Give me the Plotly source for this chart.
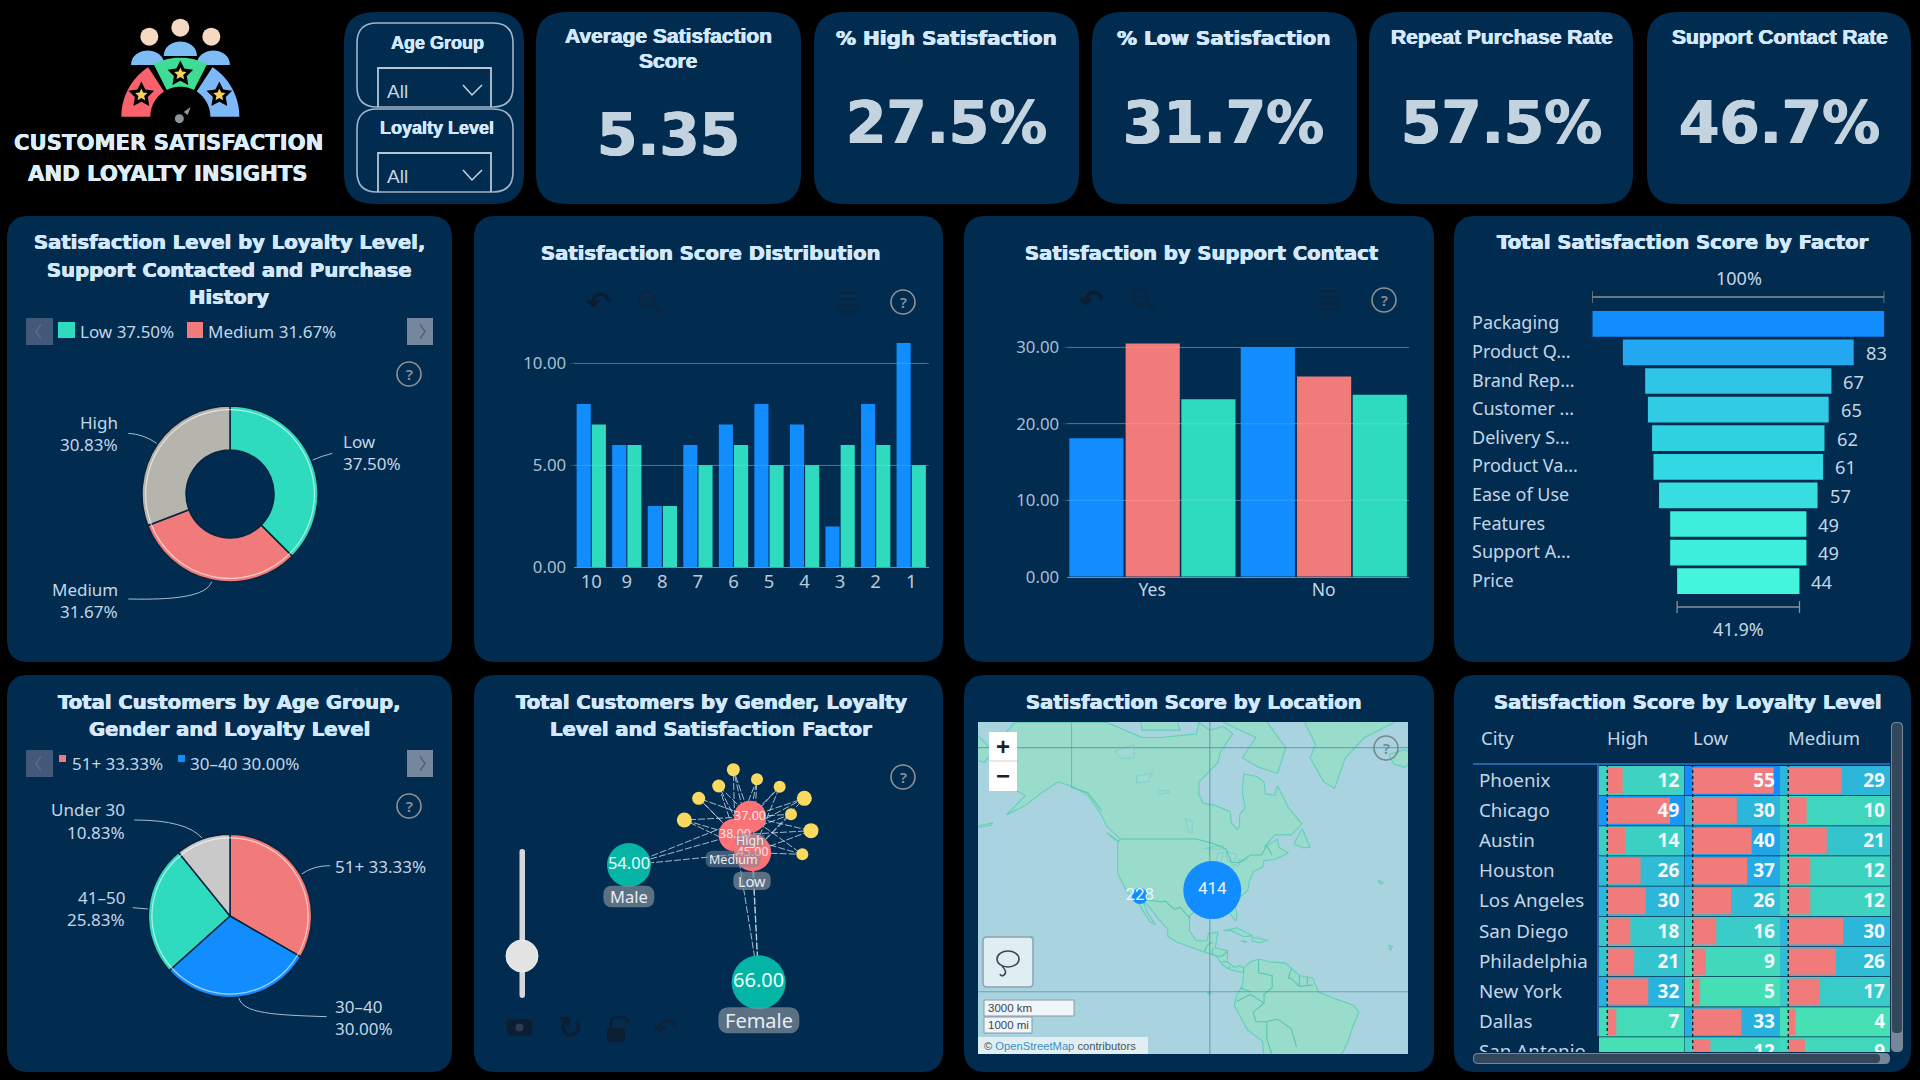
import math, re
import plotly.graph_objects as go

# ---------------- data ----------------
kpi_titles = [["Average Satisfaction", "Score"], ["% High Satisfaction"], ["% Low Satisfaction"],
              ["Repeat Purchase Rate"], ["Support Contact Rate"]]
kpi_values = ["5.35", "27.5%", "31.7%", "57.5%", "46.7%"]

level_labels = ["Low", "Medium", "High"]
level_pct = [37.50, 31.67, 30.83]

score_cats = ["10", "9", "8", "7", "6", "5", "4", "3", "2", "1"]
score_blue = [8, 6, 3, 6, 7, 8, 7, 2, 8, 11]
score_green = [7, 6, 3, 5, 6, 5, 5, 6, 6, 5]

contact_cats = ["Yes", "No"]
contact_blue = [18.1, 30.0]
contact_red = [30.5, 26.2]
contact_green = [23.2, 23.8]

factor_names = ["Packaging", "Product Q...", "Brand Rep...", "Customer ...", "Delivery S...",
                "Product Va...", "Ease of Use", "Features", "Support A...", "Price"]
factor_vals = [105, 83, 67, 65, 62, 61, 57, 49, 49, 44]
factor_labels = ["", "83", "67", "65", "62", "61", "57", "49", "49", "44"]
factor_colors = ["#118dff", "#22a7f0", "#2dc4e6", "#30cce6", "#30d2e2", "#32d8e4", "#38dde0", "#3eeedd", "#3eeedd", "#42f5dc"]

age_labels = ["51+", "30–40", "41–50", "Under 30"]
age_pct = [33.33, 30.00, 25.83, 10.83]

gender_names = ["Male", "Female"]
gender_vals = [54, 66]
loyalty_names = ["Medium", "High", "Low"]
loyalty_vals = [38, 37, 45]

cities = ["Phoenix", "Chicago", "Austin", "Houston", "Los Angeles", "San Diego",
          "Philadelphia", "New York", "Dallas", "San Antonio"]
high_vals = [12, 49, 14, 26, 30, 18, 21, 32, 7, None]
low_vals = [55, 30, 40, 37, 26, 16, 9, 5, 33, 12]
medium_vals = [29, 10, 21, 12, 12, 30, 26, 17, 4, 9]

cluster_counts = [414, 228]
cluster_lon = [-89.1, -115.8]
cluster_lat = [35.1, 33.3]

# force-layout node positions (graph layout units)
gender_pos_x = [477, 866]
gender_pos_y = [585, 937]
loyalty_pos_x = [795, 840, 848]
loyalty_pos_y = [495, 440, 548]
factor_pos_x = [790, 861, 746, 929, 686, 1003, 963, 643, 1023, 997]
factor_pos_y = [299, 328, 348, 350, 385, 385, 433, 450, 482, 553]
factor_node_px = [13, 12, 13, 12, 13, 15, 12, 15, 15, 12]

# approximate coastlines (lon, lat)
coast_america = [(-168,65.6),(-164,66.5),(-166,68.3),(-162,70),(-141,70),(-128,70),(-115,68),(-108,68),(-95,68.5),(-94,70),(-90,69),(-85,69.5),
 (-81.5,68.5),(-86,66),(-87,64.3),(-94,61),(-94,58.7),(-92.5,57),(-88,56.5),(-82.5,55.2),(-82,52.8),(-80,51.3),(-79,52),(-79,54.5),(-77,56),(-78,59),
 (-77.5,62.4),(-73,62),(-70,61),(-69.5,58.8),(-66,58.5),(-65,60.3),(-61,56),(-56,52.5),(-60,50),(-66,50),(-70,47),(-65,49),(-64.5,47),(-61,45.5),
 (-66,43.8),(-70,43.5),(-70.5,41.7),(-74,40.5),(-75.5,37.5),(-76,35),(-81,31.5),(-80,27),(-80.5,25.2),(-82,27),(-84,30),(-89,30),(-94,29.5),
 (-97.5,27),(-97.5,22),(-95,18.5),(-91,18.5),(-90.5,21),(-87,21.5),(-88,16),(-83.5,15),(-83.5,11),(-81,9),(-79,9.5),(-77.5,8.7),(-75,11),(-72,12),
 (-68,11),(-62,10.5),(-57,6),(-52,5),(-50,0),(-44,-2.5),(-37,-5),(-35,-7.5),(-37,-12),(-39,-18),(-41,-22),(-48,-26),(-70,-26),(-70.5,-18),(-76,-14),
 (-81,-5),(-80,-1),(-78,2),(-77.5,7),(-80,7.5),(-83,8.3),(-85.5,10),(-87.5,13),(-92,14.5),(-96,16),(-102,18),(-105.5,20),(-105.5,22.5),(-109,26),
 (-112.5,30),(-114.7,31.7),(-113,28),(-110,24),(-112,25),(-115,29),(-117,32.5),(-120.5,34.5),(-124,40),(-124,48),(-123,49),(-128,52),(-130.5,55),
 (-135,58.5),(-140,60),(-146,61),(-152,59),(-158,56.5),(-165,54.5),(-158,58.5),(-162,59.5),(-166,62),(-161,64.5),(-168,65.6)]
coast_islands = [
 [(-80,73.5),(-72,71.5),(-62,66.5),(-65,62.5),(-72,63.5),(-78,65),(-73,68),(-85,70),(-89,72)],
 [(-117,73),(-105,73),(-101,69),(-115,69)],
 [(-55,70),(-51,67),(-53,65),(-48,61),(-44,59.8),(-40,65),(-33,68),(-22,70),(-22,72),(-55,72)],
 [(-24,65.5),(-18,66.3),(-14,65),(-18,63.5),(-22,64)],
 [(-180,70),(-170,66),(-173,64.3),(-180,65)],
 [(-59,47.7),(-56,51.5),(-53,47),(-55.5,46.8)],
 [(-85,22),(-80,23),(-74.2,20.2),(-77.5,19.9),(-82,22)],
 [(-74.3,19.8),(-68.5,18.7),(-71.5,17.8),(-74.3,18.3)],
 [(-78.4,18.4),(-76.3,18.2),(-77,17.8)],
 [(-128,50.5),(-123.5,48.4),(-125,48.8)],
 [(-28,38),(-26,37.4),(-27,36.8)],
 [(-24,17),(-22.6,16.6),(-23.4,15)],
 [(-91,0),(-89.5,-0.5),(-90.5,-1)],
 [(-156,20.2),(-155,19.7),(-155.6,19)],
 [(-176,52),(-170,52.8),(-170.5,52.3),(-176,51.6)],
]
lakes = [
 [(-92,46.7),(-85,47.5),(-84.7,46.5),(-89,46.5)],
 [(-87.8,42),(-86.3,42),(-85,45.7),(-87,45.5)],
 [(-84,46),(-80,45),(-81.5,43),(-83.5,43.5)],
 [(-83.3,41.8),(-79,42.8),(-79,42.3),(-82,41.4)],
 [(-79.6,43.5),(-76.2,44),(-76.4,43.4),(-79,43.2)],
 [(-117,62),(-111,62.6),(-113,61),(-117,60.8)],
 [(-125,66),(-118,67),(-118,65),(-123,65)],
 [(-99,53.7),(-96.5,53),(-96.5,50.5),(-98,51)],
 [(-109,59.5),(-105,59.3),(-105,59),(-109,58.7)],
]
borders = [
 [(-123,49),(-95,49),(-89,48),(-84,46.5),(-82,43),(-79,43),(-75,45),(-71,45),(-69,47.3),(-67,45)],
 [(-141,70),(-141,60),(-135,59),(-130,55.5)],
 [(-117,32.5),(-108,31.5),(-106.5,31.8),(-103,29),(-101,29.8),(-97.2,26)],
 [(-92,14.5),(-91,17),(-89,18)],
 [(-88.8,15.8),(-89.3,14),(-87.5,13)],
 [(-83.2,15),(-85.5,13),(-87.3,13)],
 [(-83.7,11),(-85.5,11)],
 [(-82.7,9.5),(-83,8.3)],
 [(-77.5,8.7),(-77.5,7)],
 [(-72,12),(-72,7),(-67,6),(-67,1.5),(-70,-1),(-70,-4.2),(-74,-7.5),(-73,-11),(-69,-11),(-65,-10),(-60,-13.5),(-58,-20)],
 [(-80,-3.5),(-75,-1),(-70,-4.2)],
 [(-78.8,1.4),(-75,0)],
 [(-60,8.5),(-61,5),(-60,5),(-57,2),(-52,2.5)],
 [(-57,6),(-57,2)],
 [(-54,5.5),(-54,2.3)],
 [(-69,-11),(-69,-17),(-67,-23)],
]
map_grid_lon = [-90]
map_grid_lat = [66.56, 0]

# ---------------- styles ----------------
BG = "#000000"; PANEL = "#022b50"; TITLE = "#d3e9fb"; LABEL = "#c2d6e6"; KPI = "#c3d3df"
BLUE = "#118dff"; GREEN = "#2fdbbf"; RED = "#f17a7a"; GRAY = "#b5b5ae"; LGRAY = "#c9c9c9"
SANS = "Noto Sans"; HEAD = "DejaVu Sans"; ARIAL = "Liberation Sans"
W, H = 1920, 1080
fx = lambda x: x / W
fy = lambda y: 1 - y / H
S, A, traces = [], [], []

def bolder(color, d=0.5):
    return f"{d}px 0 0 {color}, -{d}px 0 0 {color}"

def PX(d):
    out, i = [], 0
    for t in re.findall(r"[A-Za-z]|-?\d+\.?\d*", d):
        if t.isalpha():
            out.append(t)
        else:
            v = float(t)
            out.append(f"{fx(v) if i % 2 == 0 else fy(v):.5f}")
            i += 1
    return " ".join(out)

def PZ(ox, oy, d):
    out, i = [], 0
    for t in re.findall(r"[A-Za-z]|-?\d+\.?\d*", d):
        if t.isalpha():
            out.append(t)
        else:
            v = float(t)
            out.append(f"{ox + v / 3:.2f}" if i % 2 == 0 else f"{oy + v / 3:.2f}")
            i += 1
    return " ".join(out)

def path(d, fill=None, line=None, w=1, layer="below", dash=None):
    ln = dict(color=line or "rgba(0,0,0,0)", width=w if line else 0)
    if dash: ln["dash"] = dash
    S.append(dict(type="path", xref="paper", yref="paper", path=PX(d), fillcolor=fill or "rgba(0,0,0,0)", line=ln, layer=layer))

def rrect(x0, y0, x1, y1, r, fill=None, line=None, w=1, layer="below"):
    d = (f"M {x0+r} {y0} L {x1-r} {y0} Q {x1} {y0} {x1} {y0+r} L {x1} {y1-r} Q {x1} {y1} {x1-r} {y1} "
         f"L {x0+r} {y1} Q {x0} {y1} {x0} {y1-r} L {x0} {y0+r} Q {x0} {y0} {x0+r} {y0} Z")
    path(d, fill, line, w, layer)

def rect(x0, y0, x1, y1, fill=None, line=None, w=1, layer="below"):
    S.append(dict(type="rect", xref="paper", yref="paper", x0=fx(x0), x1=fx(x1), y0=fy(y0), y1=fy(y1),
                  fillcolor=fill or "rgba(0,0,0,0)", line=dict(color=line or "rgba(0,0,0,0)", width=w if line else 0), layer=layer))

def circle(cx, cy, r, fill=None, line=None, w=1, layer="below", ry=None):
    ry = ry or r
    S.append(dict(type="circle", xref="paper", yref="paper", x0=fx(cx-r), x1=fx(cx+r), y0=fy(cy+ry), y1=fy(cy-ry),
                  fillcolor=fill or "rgba(0,0,0,0)", line=dict(color=line or "rgba(0,0,0,0)", width=w if line else 0), layer=layer))

def line(x0, y0, x1, y1, color, w=1, layer="below", dash=None):
    ln = dict(color=color, width=w)
    if dash: ln["dash"] = dash
    S.append(dict(type="line", xref="paper", yref="paper", x0=fx(x0), x1=fx(x1), y0=fy(y0), y1=fy(y1), line=ln, layer=layer))

def T(x, y, s, size=17, color=LABEL, font=SANS, anchor="center", weight=None, shadow=None):
    f = dict(size=size, color=color, family=font)
    if weight: f["weight"] = weight
    if shadow: f["shadow"] = shadow
    A.append(dict(x=fx(x), y=fy(y), xref="paper", yref="paper", text=s, showarrow=False, xanchor=anchor, yanchor="middle",
                  font=f, borderpad=0, borderwidth=0))

def title(cx, y, s, size=19.6):
    T(cx, y, s, size, TITLE, HEAD, "center", 700, bolder(TITLE, 0.4))

def helpicon(cx, cy, color="#8d9296"):
    circle(cx, cy, 12, None, color, 1.6, "above")
    T(cx, cy, "?", 15, color, SANS, "center", 600)

def toolbar(ux, mx, lx, y, c="#10233a"):
    T(ux, y, "↶", 30, "#0c1d30", "DejaVu Sans", "center", 700)
    circle(mx - 3, y - 3, 7.5, None, c, 1.6)
    line(mx + 3, y + 3, mx + 11, y + 11, c, 2.6)
    line(mx - 7, y - 3, mx + 1, y - 3, c, 1.5)
    for k in range(4):
        line(lx - 10, y - 9 + k * 6.3, lx + 10, y - 9 + k * 6.3, c, 2)

def legend_nav(y0, y1):
    rect(26, y0, 53, y1, "#42597a")
    rect(407, y0, 433, y1, "#75879c")
    ym = (y0 + y1) / 2
    path(f"M 41 {ym-7} L 36 {ym} L 41 {ym+7}", None, "#5d7085", 1.3)
    path(f"M 420 {ym-7} L 425 {ym} L 420 {ym+7}", None, "#4c5b6b", 1.3)

def star(cx, cy, R, r, fill, layer="below"):
    pts = []
    for k in range(10):
        a = math.radians(-90 + 36 * k)
        q = R if k % 2 == 0 else r
        pts.append(f"{cx + q * math.cos(a):.2f} {cy + q * math.sin(a):.2f}")
    path("M " + " L ".join(pts) + " Z", fill, None, 0, layer)

def sector(cx, cy, r0, r1, a0, a1, fill):
    n = 24
    outer = [(cx + r1 * math.cos(math.radians(a0 + (a1 - a0) * k / n)), cy - r1 * math.sin(math.radians(a0 + (a1 - a0) * k / n))) for k in range(n + 1)]
    inner = [(cx + r0 * math.cos(math.radians(a1 + (a0 - a1) * k / n)), cy - r0 * math.sin(math.radians(a1 + (a0 - a1) * k / n))) for k in range(n + 1)]
    path("M " + " L ".join(f"{x:.2f} {y:.2f}" for x, y in outer + inner) + " Z", fill)

# ---------------- panels ----------------
row2 = (216, 662); row3 = (675, 1072)
cols = [(7, 452), (474, 943), (964, 1434), (1454, 1911)]
kpi_x = [(536, 801), (814, 1079), (1092, 1357), (1369, 1633), (1647, 1911)]
rrect(344, 12, 524, 204, 30, PANEL)
for a, b in kpi_x: rrect(a, 12, b, 204, 30, PANEL)
for a, b in cols:
    rrect(a, row2[0], b, row2[1], 22, PANEL)
    rrect(a, row3[0], b, row3[1], 22, PANEL)

# logo
Zl = lambda u, v: (90 + u / 3, 5 + v / 3)
for u, v in [(178, 95), (271, 68), (364, 95)]:
    x, y = Zl(u, v); circle(x, y, 9, "#f6d9c3")
for u, v in [(271, 155), (173, 182), (370, 182)]:
    x, y = Zl(u, v)
    path(f"M {x-17.3} {y} C {x-17.3} {y-21} {x+17.3} {y-21} {x+17.3} {y} Z", "#7dbcf5", "#000000", 1.2)
cx, cy = Zl(271, 335)
sector(cx, cy, 30, 59, 180, 123, "#f9626c")
sector(cx, cy, 30, 59, 117, 63, "#3fdc96")
sector(cx, cy, 30, 59, 57, 0, "#7db8f8")
for u, v in [(154, 270), (271, 207), (388, 270)]:
    x, y = Zl(u, v); star(x, y, 13.5, 6.8, "#000000"); star(x, y, 6.5, 3, "#f7d35a")
x, y = Zl(268, 341); circle(x, y, 4.5, "#8f959c")
x, y = Zl(293, 318); path(f"M {x+3} {y-4} L {x-4} {y+1} L {x} {y+4} Z", "#8f959c")
T(168, 142, "CUSTOMER SATISFACTION", 21.2, "#dceefc", HEAD, "center", 700, bolder("#dceefc", 0.3))
T(168, 173, "AND LOYALTY INSIGHTS", 21.2, "#dceefc", HEAD, "center", 700, bolder("#dceefc", 0.3))

# slicers
for by0, by1, lab, ly, dy0, ay in [(23, 107, "Age Group", 43, 68, 92), (109, 192, "Loyalty Level", 128, 153, 177)]:
    rrect(357, by0, 513, by1, 20, None, "#9fb5c8", 1.6)
    T(437, ly, lab, 18, TITLE, ARIAL, "center", 700, bolder(TITLE, 0.3))
    path(f"M 378 {by1} L 378 {dy0} L 491 {dy0} L 491 {by1}", None, "#b6c6d4", 1.8)
    T(387, ay, "All", 19, "#c5d5e0", ARIAL, "left")
    path(f"M 463 {ay-7} L 472 {ay+3} L 482 {ay-7}", None, "#c5d5e0", 1.5)

# KPI
title_cx = [668, 946, 1224, 1502, 1780]
value_cx = [668, 946, 1223, 1501, 1779]
for i, (tl, v) in enumerate(zip(kpi_titles, kpi_values)):
    sh = bolder(TITLE, 0.4)
    if len(tl) == 2:
        T(title_cx[i], 36, tl[0], 21, TITLE, ARIAL, "center", 700, sh)
        T(title_cx[i], 61, tl[1], 21, TITLE, ARIAL, "center", 700, sh)
    elif i in (1, 2):
        T(title_cx[i], 38, tl[0], 20, TITLE, HEAD, "center", 700, sh)
    else:
        T(title_cx[i], 37, tl[0], 21, TITLE, ARIAL, "center", 700, sh)
    T(value_cx[i], 135 if i == 0 else 123, v, 58, KPI, HEAD, "center", 700, bolder(KPI, 0.7))

# ---------------- donut ----------------
def pie_with_ring(cx, cy, R, labels, vals, colors, hole=0.0):
    traces.append(go.Pie(labels=labels, values=vals, sort=False, direction="clockwise", rotation=0, hole=hole, textinfo="none",
                         showlegend=False, domain=dict(x=[fx(cx - R), fx(cx + R)], y=[fy(cy + R), fy(cy - R)]),
                         marker=dict(colors=colors, line=dict(color="#06243f", width=1.5))))
    r = R - 3
    traces.append(go.Pie(labels=labels, values=vals, sort=False, direction="clockwise", rotation=0, hole=(r - 1.2) / r, textinfo="none",
                         showlegend=False, domain=dict(x=[fx(cx - r), fx(cx + r)], y=[fy(cy + r), fy(cy - r)]),
                         marker=dict(colors=["rgba(255,255,255,.62)"] * len(vals), line=dict(width=0))))

title(229, 243, "Satisfaction Level by Loyalty Level,")
title(229, 270, "Support Contacted and Purchase")
title(229, 297, "History")
legend_nav(318, 345)
rect(58, 322, 75, 338, GREEN); rect(187, 322, 203, 338, RED)
T(80, 331, f"{level_labels[0]} {level_pct[0]:.2f}%", 17, LABEL, SANS, "left")
T(208, 331, f"{level_labels[1]} {level_pct[1]:.2f}%", 17, LABEL, SANS, "left")
helpicon(409, 374)
pie_with_ring(230, 494, 88, level_labels, level_pct, [GREEN, RED, GRAY], hole=0.5)
T(118, 423, level_labels[2], 17, LABEL, SANS, "right"); T(118, 445, f"{level_pct[2]:.2f}%", 17, LABEL, SANS, "right")
T(343, 442, level_labels[0], 17, LABEL, SANS, "left"); T(343, 464, f"{level_pct[0]:.2f}%", 17, LABEL, SANS, "left")
T(118, 589, level_labels[1], 17, LABEL, SANS, "right"); T(118, 611, f"{level_pct[1]:.2f}%", 17, LABEL, SANS, "right")
LEAD = "#a9bccd"
path(PZ(0, 210, "M 385 670 Q 430 672 470 700"), None, LEAD, 1)
path(PZ(0, 210, "M 997 730 Q 965 738 938 750"), None, LEAD, 1)
path(PZ(0, 210, "M 385 1167 C 520 1170 620 1160 635 1115"), None, LEAD, 1)

# ---------------- pie ----------------
title(229, 702, "Total Customers by Age Group,")
title(229, 729, "Gender and Loyalty Level")
legend_nav(750, 777)
rect(59, 755, 66, 762, RED); rect(178, 755, 185, 762, BLUE)
T(72, 763, f"{age_labels[0]} {age_pct[0]:.2f}%", 17, LABEL, SANS, "left")
T(190, 763, f"{age_labels[1]} {age_pct[1]:.2f}%", 17, LABEL, SANS, "left")
helpicon(409, 806)
pie_with_ring(230, 916, 81.7, age_labels, age_pct, [RED, BLUE, GREEN, LGRAY])
T(125, 809, age_labels[3], 17, LABEL, SANS, "right"); T(125, 832, f"{age_pct[3]:.2f}%", 17, LABEL, SANS, "right")
T(125, 897, age_labels[2], 17, LABEL, SANS, "right"); T(125, 919, f"{age_pct[2]:.2f}%", 17, LABEL, SANS, "right")
T(335, 866, f"{age_labels[0]} {age_pct[0]:.2f}%", 17, LABEL, SANS, "left")
T(335, 1006, age_labels[1], 17, LABEL, SANS, "left"); T(335, 1028, f"{age_pct[1]:.2f}%", 17, LABEL, SANS, "left")
path(PZ(0, 670, "M 403 450 Q 560 450 607 505"), None, LEAD, 1)
path(PZ(0, 670, "M 398 713 L 445 717"), None, LEAD, 1)
path(PZ(0, 670, "M 990 587 Q 940 587 905 612"), None, LEAD, 1)
path(PZ(0, 670, "M 980 1040 C 820 1035 730 1030 717 985"), None, LEAD, 1)

# ---------------- axis helpers ----------------
layout_axes = {}
def ax(n, letter, px0, px1, **kw):
    name = f"{letter}axis{'' if n == 1 else n}"
    if letter == "x":
        dom = [fx(px0), fx(px1)]
    else:
        dom = [fy(px1), fy(px0)]
    base = dict(domain=dom, showgrid=False, zeroline=False, showticklabels=False, ticks="", showline=False, fixedrange=True, automargin=False)
    base.update(kw)
    layout_axes[name] = base

TICKFONT = dict(family=SANS, size=16.8, color="#a9bfd2")
AXIS_GRID = "rgba(255,255,255,.24)"
TICKS = dict(ticks="outside", ticklen=3, tickcolor="rgba(0,0,0,0)")

def grid_over(yn, vals, color="rgba(255,255,255,.14)", px0=0, px1=1):
    for v in vals:
        S.append(dict(type="line", xref="paper", yref=f"y{yn}", x0=px0, x1=px1, y0=v, y1=v, line=dict(color=color, width=1), layer="above"))

# chart B: score distribution
title(711, 254, "Satisfaction Score Distribution")
helpicon(903, 302); toolbar(598, 650, 848, 302)
b_top = 567.3 - 11.5 * 20.4
traces.append(go.Bar(x=score_cats, y=score_blue, marker=dict(color=BLUE, line=dict(width=0)), xaxis="x", yaxis="y", showlegend=False))
traces.append(go.Bar(x=score_cats, y=score_green, marker=dict(color=GREEN, line=dict(width=0)), xaxis="x", yaxis="y", showlegend=False))
ax(1, "x", 573.5, 929, type="category", categoryorder="array", categoryarray=score_cats, anchor="y", showticklabels=True, ticklabelstandoff=-3,
   tickfont=dict(family=SANS, size=18.5, color="#b7cadb"), showline=True, linecolor="#7a8b9c", linewidth=1)
ax(1, "y", b_top, 567.3, range=[0, 11.5], anchor="x", showticklabels=True, tickvals=[0, 5, 10], tickformat=".2f", tickfont=TICKFONT,
   showgrid=True, gridcolor=AXIS_GRID, gridwidth=1, **TICKS)
grid_over("", [5, 10], px0=fx(570), px1=fx(927))

# chart C: support contact
title(1201, 254, "Satisfaction by Support Contact")
helpicon(1384, 300); toolbar(1091, 1143, 1329, 300)
c_top = 576.7 - 31.5 * 7.644
for vals, col, off in [(contact_blue, BLUE, -0.4835), (contact_red, RED, -0.155), (contact_green, GREEN, 0.170)]:
    traces.append(go.Bar(x=contact_cats, y=vals, width=[0.316] * len(vals), offset=[off] * len(vals),
                         marker=dict(color=col, line=dict(width=0)), xaxis="x2", yaxis="y2", showlegend=False))
ax(2, "x", 1066.5, 1409.3, type="category", anchor="y2", showticklabels=True, ticklabelstandoff=-3, tickfont=dict(family=SANS, size=17.5, color="#c2d6e6"),
   showline=True, linecolor="#7a8b9c", linewidth=1)
ax(2, "y", c_top, 576.7, range=[0, 31.5], anchor="x2", showticklabels=True, tickvals=[0, 10, 20, 30], tickformat=".2f", tickfont=TICKFONT,
   showgrid=True, gridcolor=AXIS_GRID, gridwidth=1, **TICKS)
grid_over("2", [10, 20, 30], px0=fx(1063), px1=fx(1409))

# chart D: funnel
title(1683, 243, "Total Satisfaction Score by Factor")
half = factor_vals[0] / 2
traces.append(go.Funnel(y=factor_names, x=factor_vals, orientation="h", xaxis="x3", yaxis="y3", textinfo="none", showlegend=False,
                        connector=dict(visible=False), marker=dict(color=factor_colors, line=dict(width=0))))
ax(3, "x", 1592.3, 1884.3, range=[-half, half], anchor="y3")
ax(3, "y", 309.5, 595.5, type="category", range=[9.5, -0.5], anchor="x3", categoryorder="array", categoryarray=factor_names)
for name, val, lab in zip(factor_names, factor_vals, factor_labels):
    A.append(dict(x=fx(1470), xref="paper", y=name, yref="y3", text=name, showarrow=False, xanchor="left", yanchor="middle", yshift=1.5,
                  font=dict(family=SANS, size=18, color=LABEL)))
    if lab:
        A.append(dict(x=val / 2, xref="x3", y=name, yref="y3", text=lab, showarrow=False, xanchor="left", yanchor="middle", xshift=10, yshift=0,
                      font=dict(family=SANS, size=18.3, color=LABEL)))
BR = "#8a9097"
top_y, bot_y = 297, 607
for yy, v in [(top_y, factor_vals[0]), (bot_y, factor_vals[-1])]:
    S.append(dict(type="line", xref="x3", yref="paper", x0=-v / 2, x1=v / 2, y0=fy(yy), y1=fy(yy), line=dict(color=BR, width=1.3), layer="above"))
    for sgn in (-1, 1):
        S.append(dict(type="line", xref="x3", yref="paper", x0=sgn * v / 2, x1=sgn * v / 2, y0=fy(yy - 6), y1=fy(yy + 6), line=dict(color=BR, width=1.3), layer="above"))
T(1739, 278, "100%", 18, LABEL)
T(1738, 629, f"{factor_vals[-1] / factor_vals[0] * 100:.1f}%", 18, LABEL)

# chart F: network
title(711, 702, "Total Customers by Gender, Loyalty")
title(711, 729, "Level and Satisfaction Factor")
helpicon(903, 777)
Zn = lambda u, v: (470 + u / 3, 670 + v / 3)
edge_x, edge_y = [], []
for lx_, ly_ in zip(loyalty_pos_x, loyalty_pos_y):
    for px_, py_ in list(zip(factor_pos_x, factor_pos_y)) + list(zip(gender_pos_x, gender_pos_y)):
        edge_x += [lx_, px_, None]; edge_y += [ly_, py_, None]
traces.append(go.Scatter(x=edge_x, y=edge_y, mode="lines", xaxis="x4", yaxis="y4", showlegend=False, hoverinfo="skip",
                         line=dict(color="rgba(225,238,250,.72)", width=1, dash="7px,2px")))
traces.append(go.Scatter(x=loyalty_pos_x, y=loyalty_pos_y, mode="markers+text", xaxis="x4", yaxis="y4", showlegend=False,
                         marker=dict(color="#fb7277", size=[33, 32, 37], opacity=1, line=dict(width=0)),
                         text=[f"{v:.2f}" for v in loyalty_vals], textposition="middle center", textfont=dict(family=SANS, size=12.5, color="#ffe6e6")))
traces.append(go.Scatter(x=gender_pos_x, y=gender_pos_y, mode="markers+text", xaxis="x4", yaxis="y4", showlegend=False,
                         marker=dict(color="#04b4a4", size=[44, 54], opacity=1, line=dict(width=0)),
                         text=[f"{v:.2f}" for v in gender_vals], textposition="middle center", textfont=dict(family=SANS, size=[16.5, 20], color="#eafffb")))
traces.append(go.Scatter(x=factor_pos_x, y=factor_pos_y, mode="markers", xaxis="x4", yaxis="y4", showlegend=False,
                         marker=dict(color="#f9d95f", size=factor_node_px, opacity=1, line=dict(width=0))))
ax(4, "x", 474, 943, range=[12, 1419], anchor="y4")
ax(4, "y", 675, 1072, range=[1206, 15], anchor="x4")
for u0, v0, u1, v1, lab, sz, alpha in [(400, 647, 553, 712, gender_names[0], 16.5, .72), (745, 1012, 988, 1090, gender_names[1], 20, .72),
                                       (790, 605, 902, 660, loyalty_names[2], 14.5, .72), (707, 542, 872, 592, loyalty_names[0], 12.5, .5), (795, 490, 885, 530, loyalty_names[1], 12.5, .5)]:
    a, b = Zn(u0, v0); c, d = Zn(u1, v1)
    rrect(a, b, c, d, (d - b) / 2.4, f"rgba(128,138,153,{alpha})", layer="above")
    T((a + c) / 2, (b + d) / 2, lab, sz, "#e6edf4")
# slider and icons
rrect(519.5, 849, 525, 998, 2.5, "#d5d7da")
circle(522, 956, 16, "#e3e3e3", "#f2f2f2", 1)
DK = "#0c1e32"
rrect(507, 1019, 532, 1036, 4, DK)
circle(519.5, 1027.5, 4, "#2a3d52")
T(570, 1027, "↻", 30, DK, "DejaVu Sans", "center", 700)
rect(607, 1028, 625, 1042, DK)
path("M 611 1028 L 611 1021 Q 611 1017 620 1017 Q 628 1017 628 1023", None, DK, 2.2)
T(665, 1028, "↶", 28, "#0c2238", "DejaVu Sans", "center", 700)

# chart G: map
title(1194, 702, "Satisfaction Score by Location")
def merc(lat):
    return math.log(math.tan(math.pi / 4 + math.radians(lat) / 2))
def rings(polys):
    xs, ys = [], []
    for poly in polys:
        pts = poly if poly[0] == poly[-1] else poly + [poly[0]]
        for lo, la in pts:
            xs.append(lo); ys.append(merc(la))
        xs.append(None); ys.append(None)
    return xs, ys
def polylines(polys):
    xs, ys = [], []
    for poly in polys:
        for lo, la in poly:
            xs.append(lo); ys.append(merc(la))
        xs.append(None); ys.append(None)
    return xs, ys
OCEAN = "#a9d3df"; LAND = "#9adccb"; COAST = "#63cfb9"
rect(978, 722, 1408, 1054, OCEAN)
lx_, ly_ = rings([coast_america] + coast_islands)
traces.append(go.Scatter(x=lx_, y=ly_, mode="lines", fill="toself", fillcolor=LAND, line=dict(color=COAST, width=1.1), xaxis="x5", yaxis="y5", showlegend=False, hoverinfo="skip"))
lx_, ly_ = rings(lakes)
traces.append(go.Scatter(x=lx_, y=ly_, mode="lines", fill="toself", fillcolor="#a2d8d8", line=dict(color=COAST, width=0.6), xaxis="x5", yaxis="y5", showlegend=False, hoverinfo="skip"))
lx_, ly_ = polylines(borders)
traces.append(go.Scatter(x=lx_, y=ly_, mode="lines", line=dict(color="#58c6b0", width=1.1), xaxis="x5", yaxis="y5", showlegend=False, hoverinfo="skip"))
gx, gy = [], []
for lo in map_grid_lon:
    gx += [lo, lo, None]; gy += [-0.401, 1.738, None]
for la in map_grid_lat:
    gx += [-175.5, -16.9, None]; gy += [merc(la), merc(la), None]
traces.append(go.Scatter(x=gx, y=gy, mode="lines", line=dict(color="rgba(60,125,150,.55)", width=1.2), xaxis="x5", yaxis="y5", showlegend=False, hoverinfo="skip"))
traces.append(go.Scatter(x=cluster_lon, y=[merc(v) for v in cluster_lat], mode="markers+text", xaxis="x5", yaxis="y5", showlegend=False,
                         marker=dict(color=BLUE, size=[58, 16], opacity=1, line=dict(width=0)), text=[str(v) for v in cluster_counts],
                         textposition="middle center", textfont=dict(family="Roboto", size=17, color="#e8f4ff")))
ax(5, "x", 978, 1408, range=[-175.5, -16.9], anchor="y5")
ax(5, "y", 722, 1054, range=[-0.401, 1.738], anchor="x5")
rect(989, 732, 1017, 791, "#ffffff", layer="above")
line(989, 761, 1017, 761, "#d5d5d5", 1, "above")
T(1003, 746, "+", 24, "#202020", ARIAL, "center", 700)
T(1003, 775, "−", 24, "#202020", ARIAL, "center", 700)
rrect(983, 937, 1033, 987, 4, "#dfeef3", "#8fa3ad", 1.5, "above")
circle(1008, 959, 11, None, "#3c4a52", 1.6, "above", ry=8)
path("M 1002 966 Q 1008 972 1004 975 Q 1001 977 1000 974", None, "#3c4a52", 1.6, "above")
rect(984, 1000, 1074, 1016, "#eef6fb", "#8a98a2", 1, "above")
rect(984, 1017, 1032, 1033, "#eef6fb", "#8a98a2", 1, "above")
T(988, 1008, "3000 km", 11.5, "#3d4448", ARIAL, "left")
T(988, 1025, "1000 mi", 11.5, "#3d4448", ARIAL, "left")
rect(978, 1037, 1148, 1054, "rgba(235,243,246,.85)", layer="above")
T(984, 1045.5, '© <span style="color:#3a8fc4">OpenStreetMap</span> contributors', 11.2, "#4a5257", ARIAL, "left")
helpicon(1386, 748, "#78858c")

# chart H: table
title(1688, 702, "Satisfaction Score by Loyalty Level")
T(1481, 737, "City", 18.5, LABEL, SANS, "left")
T(1607, 737, "High", 18.5, LABEL, SANS, "left")
T(1693, 737, "Low", 18.5, LABEL, SANS, "left")
T(1788, 737, "Medium", 18.5, LABEL, SANS, "left")
tbl_top, tbl_bot = 764, 1052
ax(6, "y", tbl_top, tbl_bot, type="category", range=[9.0, -0.55], categoryorder="array", categoryarray=cities, anchor="x6")
ax(7, "y", tbl_top, tbl_bot, type="category", range=[8.95, -0.6], categoryorder="array", categoryarray=cities, anchor="x6")
col_spec = [(6, high_vals, 1599, 1684.3, 1.28), (7, low_vals, 1684.3, 1780, 1.473), (8, medium_vals, 1780, 1890, 1.833)]
start_px = [1607.3, 1692.7, 1788.3]
dot_end = [1035, tbl_bot, tbl_bot]
for (n, vals, p0, p1, scale), sp, de in zip(col_spec, start_px, dot_end):
    lo = -(sp - p0) / scale; hi = (p1 - sp) / scale
    xa = f"x{n}"
    ax(n, "x", p0, p1, range=[lo, hi], anchor="y6")
    shade = [v if v is not None else 0 for v in vals]
    traces.append(go.Bar(y=cities, x=[hi - lo] * len(vals), base=[lo] * len(vals), orientation="h", xaxis=xa, yaxis="y6", showlegend=False,
                         width=[0.975] * len(vals), offset=[-0.4875] * len(vals), hoverinfo="skip",
                         marker=dict(color=shade, cmin=4, cmax=55, colorscale=[[0, "#46e0b4"], [1, BLUE]], line=dict(width=0))))
    traces.append(go.Bar(y=cities, x=shade, base=[0] * len(vals), orientation="h", xaxis=xa, yaxis="y6", showlegend=False,
                         width=[0.87] * len(vals), offset=[-0.435] * len(vals), marker=dict(color=RED, line=dict(width=0))))
    traces.append(go.Scatter(y=cities, x=[hi - 5 / scale] * len(vals), mode="text", xaxis=xa, yaxis="y7", showlegend=False, hoverinfo="skip",
                             text=["" if v is None else str(v) for v in vals], textposition="middle left",
                             textfont=dict(family=SANS, size=19, color="#f2f8fb", weight=700)))
    S.append(dict(type="line", xref=xa, yref="paper", x0=0, x1=0, y0=fy(tbl_top), y1=fy(de), line=dict(color="#12202c", width=1.4, dash="dot"), layer="above"))
ax(9, "x", 1473, 1598, range=[0, 125], anchor="y6")
traces.append(go.Scatter(y=cities, x=[6] * len(cities), mode="text", xaxis="x9", yaxis="y7", showlegend=False, hoverinfo="skip", text=cities,
                         textposition="middle right", textfont=dict(family=SANS, size=18.8, color=LABEL)))
line(1473, 764, 1890, 764, "#2a79cc", 1.6, "above")
line(1598, 764, 1598, 1036, "#2a79cc", 1.6, "above")
rrect(1891, 722, 1903, 1052, 5, "#76879a", layer="above")
rrect(1892, 723, 1902, 1033, 4, "#34475a", layer="above")
rrect(1473, 1053, 1890, 1064, 5, "#76879a", layer="above")
rrect(1474, 1054, 1880, 1063, 4, "#34475a", layer="above")

# ---------------- figure ----------------
fig = go.Figure(traces)
fig.update_layout(width=W, height=H, margin=dict(l=0, r=0, t=0, b=0), paper_bgcolor=BG, plot_bgcolor="rgba(0,0,0,0)",
                  barmode="group", bargap=0.146, bargroupgap=0.07, funnelgap=0.1, showlegend=False, shapes=S, annotations=A,
                  font=dict(family=SANS), **layout_axes)
fig.write_html("out.html", config=dict(displayModeBar=False, responsive=False),
               post_script="document.body.style.margin='0';document.body.style.overflow='hidden';")
